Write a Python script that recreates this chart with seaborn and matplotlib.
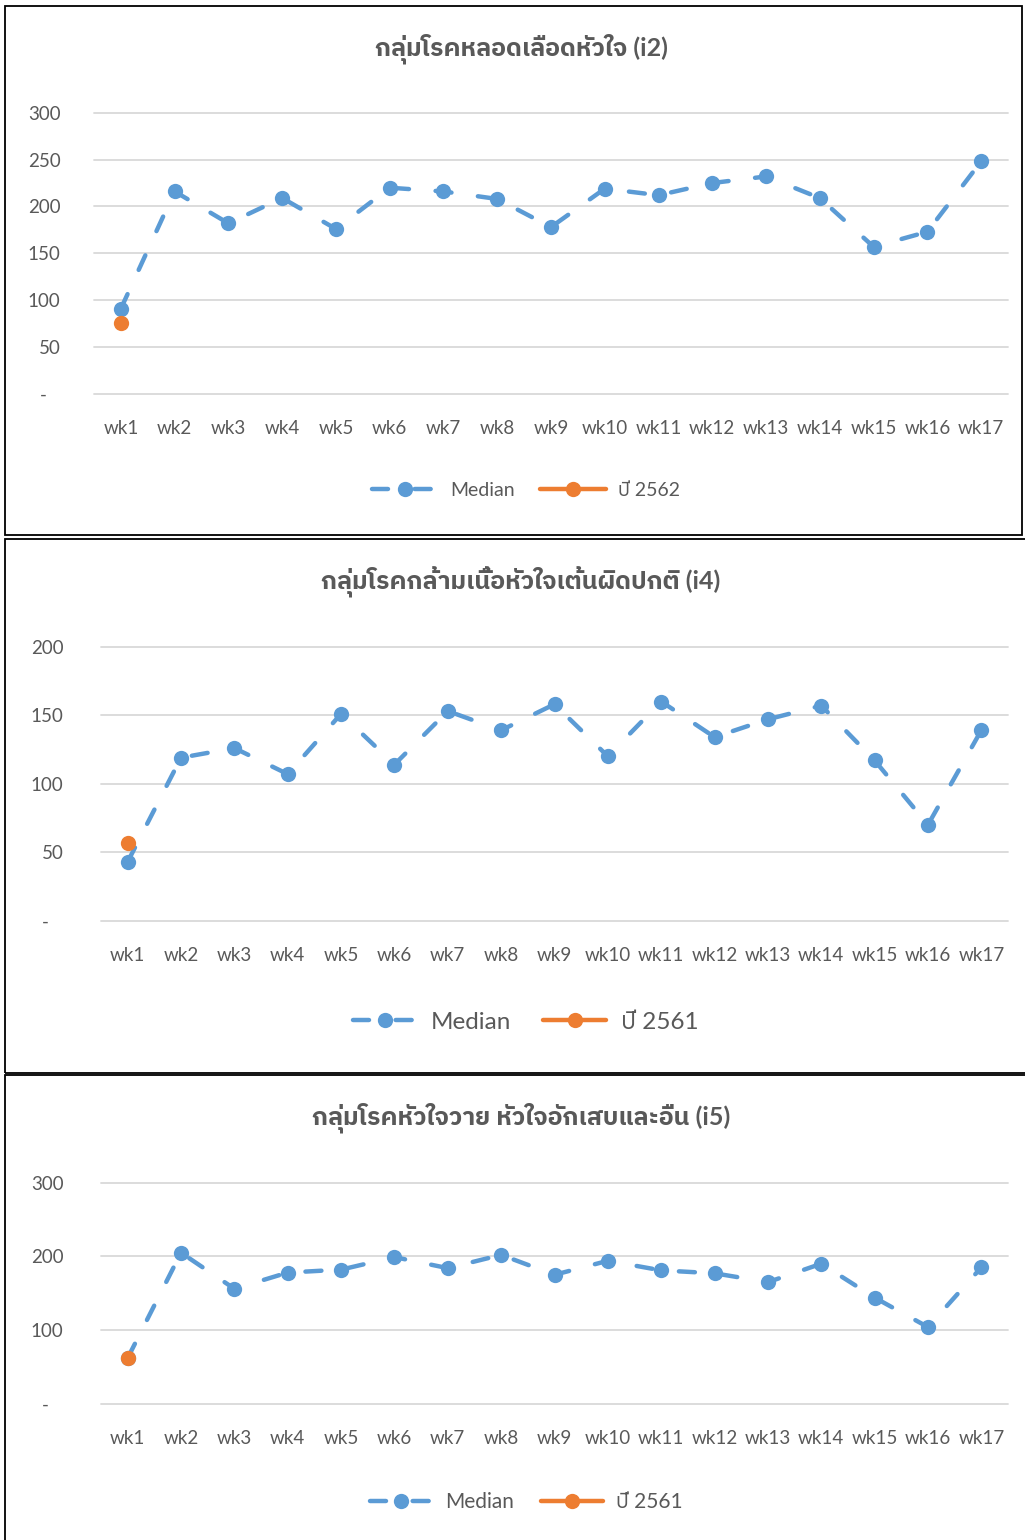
import matplotlib
matplotlib.use("Agg")
import matplotlib.pyplot as plt
import seaborn as sns
import pandas as pd
from matplotlib import font_manager
from matplotlib.patches import Rectangle

# ---- data ----
weeks = ["wk1", "wk2", "wk3", "wk4", "wk5", "wk6", "wk7", "wk8", "wk9",
         "wk10", "wk11", "wk12", "wk13", "wk14", "wk15", "wk16", "wk17"]

i2_title = "กลุ่มโรคหลอดเลือดหัวใจ (i2)"
i2_median = [91, 216, 182, 209, 176, 220, 216, 208, 178, 219, 212, 225, 232, 209, 157, 173, 248]
i2_year = [76]
i2_year_label = "ปี 2562"

i4_title = "กลุ่มโรคกล้ามเนื้อหัวใจเต้นผิดปกติ (i4)"
i4_median = [43, 119, 126, 107, 151, 114, 153, 139, 158, 120, 160, 134, 147, 157, 117, 70, 139]
i4_year = [57]
i4_year_label = "ปี 2561"

i5_title = "กลุ่มโรคหัวใจวาย หัวใจอักเสบและอื่น (i5)"
i5_median = [62, 205, 156, 178, 182, 199, 184, 202, 175, 194, 181, 177, 165, 190, 144, 104, 185]
i5_year = [62]
i5_year_label = "ปี 2561"

BLUE = "#5B9BD5"
ORANGE = "#ED7D31"
GREY = "#595959"
GRID = "#D9D9D9"

W, H = 1025, 1540


# หา font ที่มีตัวอักษรไทย
def thai_family():
    from fontTools.ttLib import TTFont
    found = []
    for f in font_manager.fontManager.ttflist:
        try:
            tt = TTFont(f.fname, fontNumber=0, lazy=True)
            cmap = tt.getBestCmap()
            if cmap and 0x0E01 in cmap:
                found.append(f.name)
        except Exception:
            pass
    for name in found:
        if "Thai" in name and "Looped" not in name:
            return name
    return found[0] if found else "DejaVu Sans"


sns.set_theme(style="white")
THAI = thai_family()
FAMILY = ["Lato", THAI, "DejaVu Sans"]
plt.rcParams["font.family"] = FAMILY

fig = plt.figure(figsize=(W / 100, H / 100), dpi=100)
fig.patch.set_facecolor("white")


def px_axes(left, top, right, bottom):
    return fig.add_axes([left / W, 1 - bottom / H, (right - left) / W, (bottom - top) / H])


def frame(left, top, right, bottom):
    fig.patches.append(Rectangle((left / W, 1 - bottom / H), (right - left) / W, (bottom - top) / H,
                                 transform=fig.transFigure, fill=False, edgecolor="black",
                                 linewidth=1.3, zorder=0))


def draw_panel(ax, title, median, year, year_label, ymax, ystep, title_y,
               ylab_pad, leg_y, leg_size, leg_handle):
    df = pd.DataFrame({"week": weeks, "value": median})
    sns.lineplot(data=df, x="week", y="value", ax=ax, sort=False, color=BLUE,
                 linewidth=3.2, linestyle=(0, (3.6, 6.0)), dash_capstyle="round",
                 marker="o", markersize=11, markeredgewidth=0, label="Median",
                 clip_on=False, zorder=3)
    dfy = pd.DataFrame({"week": weeks[:len(year)], "value": year})
    sns.lineplot(data=dfy, x="week", y="value", ax=ax, sort=False, color=ORANGE,
                 linewidth=3.2, marker="o", markersize=11, markeredgewidth=0,
                 label=year_label, clip_on=False, zorder=4)

    ax.set_xlim(-0.5, len(weeks) - 0.5)
    ax.set_ylim(0, ymax)
    ticks = list(range(0, ymax + 1, ystep))
    ax.set_yticks(ticks)
    ax.set_yticklabels(["-   "] + [str(t) for t in ticks[1:]])
    ax.set_xlabel("")
    ax.set_ylabel("")
    for s in ax.spines.values():
        s.set_visible(False)
    ax.grid(axis="y", color=GRID, linewidth=1.3)
    ax.grid(axis="x", visible=False)
    for gl in ax.get_ygridlines():
        gl.set_clip_on(False)
    ax.tick_params(axis="y", length=0, pad=ylab_pad, labelsize=13.5, labelcolor=GREY)
    ax.tick_params(axis="x", length=0, pad=19, labelsize=13.5, labelcolor=GREY)
    ax.set_facecolor("none")

    fig.text(521 / W, 1 - title_y / H, title, ha="center", va="center",
             fontsize=18, fontweight="bold", color=GREY)

    ax.legend(loc="center", bbox_to_anchor=(526 / W, 1 - leg_y / H),
              bbox_transform=fig.transFigure, ncol=2, frameon=False,
              fontsize=leg_size, labelcolor=GREY, handlelength=leg_handle,
              handletextpad=0.6, columnspacing=1.3)


frame(5, 6, 1022, 535)
frame(5, 539, 1040, 1073)
frame(5, 1075, 1040, 1560)

ax1 = px_axes(94, 112.7, 1008, 394)
draw_panel(ax1, i2_title, i2_median, i2_year, i2_year_label, 300, 50, 49, 24, 490, 14, 3.4)

ax2 = px_axes(101, 646.7, 1008, 920.7)
draw_panel(ax2, i4_title, i4_median, i4_year, i4_year_label, 200, 50, 582, 27, 1022, 17.5, 2.6)

ax3 = px_axes(101, 1182.7, 1008, 1403.7)
draw_panel(ax3, i5_title, i5_median, i5_year, i5_year_label, 300, 100, 1118, 27, 1502, 15, 3.0)

fig.savefig("out.png", dpi=100, facecolor="white")
